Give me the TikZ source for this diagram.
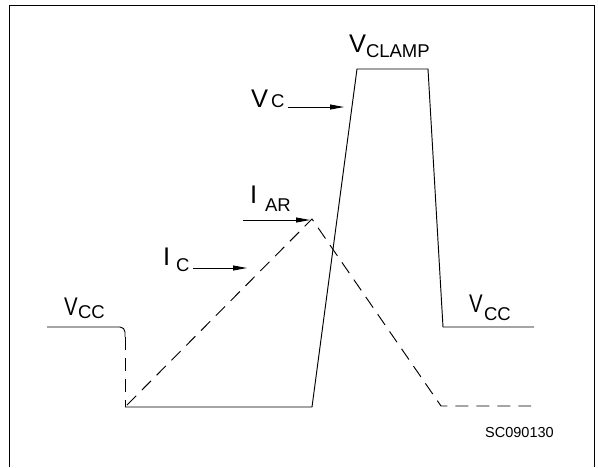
\documentclass[tikz,border=0pt]{standalone}
\usepackage{fontspec}
\setmainfont{Liberation Sans}
\usetikzlibrary{arrows.meta}
\begin{document}
\begin{tikzpicture}[x=1pt,y=-1pt,
  wave/.style={line width=0.95pt, black},
  dashwave/.style={wave, dash pattern=on 13pt off 8pt},
  framestyle/.style={line width=1.1pt},
  ptr/.style={line width=0.9pt, -{Triangle[length=14pt,width=5pt]}},
  mainlbl/.style={font=\fontsize{25.5}{25.5}\selectfont, inner sep=0pt, outer sep=0pt, anchor=base west},
  sublbl/.style={font=\fontsize{18.5}{18.5}\selectfont, inner sep=0pt, outer sep=0pt, anchor=base west},
  codelbl/.style={font=\fontsize{14.5}{14.5}\selectfont, inner sep=0pt, anchor=base west}]
\useasboundingbox (0,0) rectangle (598,467);
% frame (open at the bottom)
\draw[framestyle] (9.5,467) -- (9.5,5.5) -- (594.5,5.5) -- (594.5,467);
% waveform points
\coordinate (L0) at (47,327);
\coordinate (L1) at (125,327);
\coordinate (L2) at (125,337);
\coordinate (B0) at (125,407);
\coordinate (B1) at (312,407);
\coordinate (T0) at (357,69);
\coordinate (T1) at (428,69);
\coordinate (R0) at (443,327);
\coordinate (R1) at (534,327);
\coordinate (P) at (312,219);
\coordinate (Q0) at (441,406);
\coordinate (Q1) at (531,406);
% voltage
\draw[wave, rounded corners=5pt] (L0) -- (L1) -- (L2);
\draw[dashwave] (L2) -- (B0);
\draw[wave] (B0) -- (B1) -- (T0) -- (T1) -- (R0) -- (R1);
% current
\draw[dashwave] (127,405) -- (P) -- (Q0) -- (Q1);
% labels
\node[mainlbl] (vc) at (251,107) {V};
\node[sublbl] (vcs) at (271,107) {C};
\node[mainlbl] (vcl) at (349,52) {V};
\node[sublbl] (vcls) at (366,57) {CLAMP};
\node[mainlbl] (iar) at (250,203) {I};
\node[sublbl] (iars) at (265,211) {AR};
\node[mainlbl] (ic) at (163,265) {I};
\node[sublbl] (ics) at (176,271) {C};
\node[mainlbl, xscale=0.8] (vccl) at (64,315) {V};
\node[sublbl] (vccls) at (78,318) {CC};
\node[mainlbl, xscale=0.8] (vccr) at (469,312) {V};
\node[sublbl] (vccrs) at (484,320) {CC};
\node[codelbl] (code) at (485,437) {SC090130};
% pointers
\coordinate (a1s) at (288,107);
\coordinate (a1e) at (344,107);
\coordinate (a2s) at (243,220);
\coordinate (a2e) at (310,220);
\coordinate (a3s) at (193,268);
\coordinate (a3e) at (247,268);
\draw[ptr] (a1s) -- (a1e);
\draw[ptr] (a2s) -- (a2e);
\draw[ptr] (a3s) -- (a3e);
\end{tikzpicture}
\end{document}
